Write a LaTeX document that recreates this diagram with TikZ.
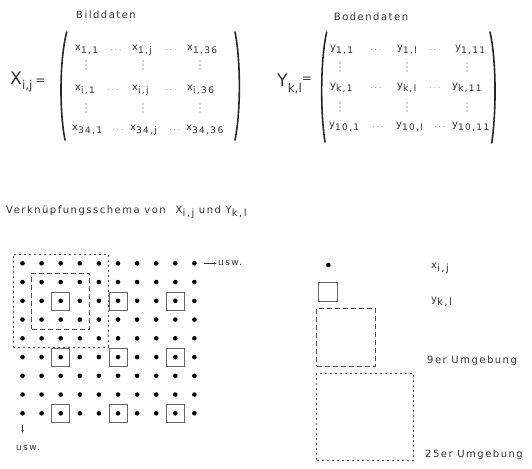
\documentclass[tikz,border=0pt]{standalone}
\usepackage{fontspec}
\setmainfont{DejaVu Sans}
\newfontfamily\lblfont[LetterSpace=15]{DejaVu Sans}
\usetikzlibrary{arrows.meta,positioning}
\definecolor{ink}{HTML}{333333}
\tikzset{
  lbl/.style={inner sep=1pt, font=\lblfont\normalsize, text=ink},
  ent/.style={anchor=west, inner sep=0pt, font=\lblfont\normalsize, text=ink},
  hdots/.style={inner sep=0pt, font=\small, text=ink},
  vdot/.style={fill=ink},
  paren/.style={line width=1.6pt, line cap=round, draw=black!85},
  pix/.style={circle, fill=black, inner sep=0pt, minimum size=4.6pt},
  ysq/.style={draw=black!60, line width=0.5pt, inner sep=0pt, minimum size=18pt},
  nine/.style={draw=black!70, line width=0.6pt, dash pattern=on 5pt off 3pt, inner sep=0pt,
               minimum width=58pt, minimum height=56pt},
  twentyfive/.style={draw=black!70, line width=0.6pt, dash pattern=on 2pt off 3pt, inner sep=0pt,
                     minimum width=95pt, minimum height=93pt},
  arr/.style={-{Latex[length=3pt,width=2.6pt]}, line width=0.6pt, draw=black!80},
}
\newcommand\ent[2]{#1\raisebox{-0.55ex}{\small #2}}

\begin{document}
\begin{tikzpicture}[x=1pt, y=-1pt]
  \useasboundingbox (0,0) rectangle (532,468);
  % Bilddaten
  \node[lbl] (bild) at (106,15) {Bilddaten};
  \node[anchor=west, inner sep=0pt, font=\LARGE, text=ink] (xhead) at (10,82)
    {X\raisebox{-0.6ex}{\large i,j}\,{\large =}};
  \node[ent] (x11) at (75,50) {\ent{x}{1,1}};
  \node[hdots] (xh11) at (116,50) {$\cdots$};
  \node[ent] (x1j) at (132,50) {\ent{x}{1,j}};
  \node[hdots] (xh12) at (171,50) {$\cdots$};
  \node[ent] (x1n) at (187,50) {\ent{x}{1,36}};
  \node[ent] (xi1) at (75,90) {\ent{x}{i,1}};
  \node[hdots] (xh21) at (113,90) {$\cdots$};
  \node[ent] (xij) at (132,90) {\ent{x}{i,j}};
  \node[hdots] (xh22) at (171,90) {$\cdots$};
  \node[ent] (xin) at (187,90) {\ent{x}{i,36}};
  \node[ent] (x31) at (72,130) {\ent{x}{34,1}};
  \node[hdots] (xh31) at (118,130) {$\cdots$};
  \node[ent] (x3j) at (130,130) {\ent{x}{34,j}};
  \node[hdots] (xh32) at (175,130) {$\cdots$};
  \node[ent] (x3n) at (186,130) {\ent{x}{34,36}};
  \foreach \c in {86,143,200}
    \foreach \r in {65,108}
      \foreach \k in {-4,0,4}
        \fill[vdot] (\c,\r+\k) circle (0.6pt);
  \draw[paren] (66.7,32) .. controls (59.4,60) and (59.4,112) .. (65,140);
  \draw[paren] (235,32) .. controls (240.8,60) and (240.8,112) .. (235,140);
  % Bodendaten
  \node[lbl] (boden) at (371,17) {Bodendaten};
  \node[anchor=west, inner sep=0pt, font=\LARGE, text=ink] (yhead) at (277,84)
    {Y\raisebox{-0.6ex}{\large k,l}\raisebox{0.4ex}{\large =}};
  \node[ent] (y11) at (330,50) {\ent{y}{1,1}};
  \node[hdots] (yh11) at (376,50) {$\cdots$};
  \node[ent] (y1l) at (397,50) {\ent{y}{1,l}};
  \node[hdots] (yh12) at (435,50) {$\cdots$};
  \node[ent] (y1n) at (455,50) {\ent{y}{1,11}};
  \node[ent] (yk1) at (330,88) {\ent{y}{k,1}};
  \node[hdots] (yh21) at (376,88) {$\cdots$};
  \node[ent] (ykl) at (397,88) {\ent{y}{k,l}};
  \node[hdots] (yh22) at (435,88) {$\cdots$};
  \node[ent] (ykn) at (452,88) {\ent{y}{k,11}};
  \node[ent] (y101) at (329,127) {\ent{y}{10,1}};
  \node[hdots] (yh31) at (378,127) {$\cdots$};
  \node[ent] (y10l) at (396,127) {\ent{y}{10,l}};
  \node[hdots] (yh32) at (440,127) {$\cdots$};
  \node[ent] (y10n) at (452,127) {\ent{y}{10,11}};
  \foreach \c in {340,407,467}
    \foreach \r in {67,107}
      \foreach \k in {-4,0,4}
        \fill[vdot] (\c,\r+\k) circle (0.6pt);
  \draw[paren] (326.7,32) .. controls (320.3,60) and (320.3,112) .. (325,142);
  \draw[paren] (490,32) .. controls (496.4,60) and (496.4,112) .. (491.7,143);
  % Verknuepfungsschema
  \node[lbl, anchor=west] (schema) at (5,212)
    {Verknüpfungsschema von\quad X\raisebox{-0.5ex}{i,j} und Y\raisebox{-0.5ex}{k,l}};
  \foreach \i in {0,...,9}
    \foreach \j in {0,...,8}
      \node[pix] (d-\i-\j) at (22.5+19.1*\i, 263.3+18.75*\j) {};
  \foreach \i in {2,5,8}
    \foreach \j in {2,5,8}
      \node[ysq] (s-\i-\j) at (d-\i-\j) {};
  \node[nine] (u9) at (d-2-2) {};
  \node[twentyfive] (u25) at (d-2-2) {};
  \node[lbl, anchor=west, font=\lblfont\small] (uswr) at (217,263.3) {usw.};
  \node[lbl, anchor=north west, font=\lblfont\small] (uswd) at (15,444) {usw.};
  \draw[arr, shorten <=7pt] (d-9-0) -- (uswr);
  \draw[arr, shorten <=9pt, shorten >=11pt] (d-0-8) -- (uswd.north -| d-0-8);
  % Legende
  \node[pix] (lpix) at (328.3,265) {};
  \node[ysq, minimum size=19pt] (lsq) at (328,292) {};
  \node[nine, minimum width=59pt, minimum height=57.7pt] (l9) at (346.2,337.2) {};
  \node[twentyfive, minimum width=96.6pt, minimum height=86.7pt] (l25) at (365,416.7) {};
  \node[lbl, anchor=west] (tx) at (430,268) {x\raisebox{-0.5ex}{i,j}};
  \node[lbl, anchor=west] (ty) at (430,302) {y\raisebox{-0.5ex}{k,l}};
  \node[lbl, anchor=west] (t9) at (426,361) {9er Umgebung};
  \node[lbl, anchor=west] (t25) at (424,455) {25er Umgebung};
\end{tikzpicture}
\end{document}
